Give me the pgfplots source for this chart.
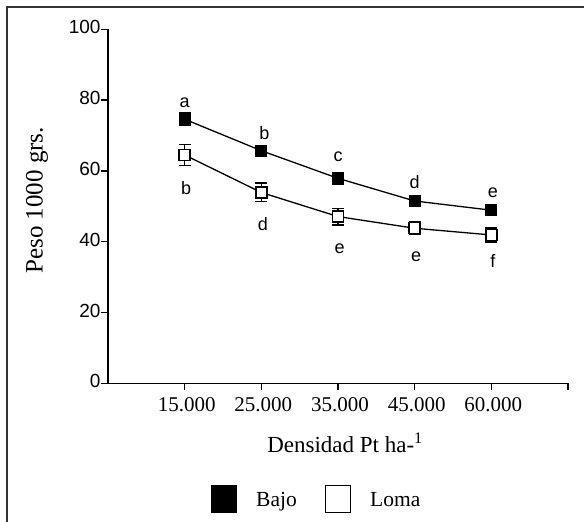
\documentclass[border=0pt]{standalone}
\usepackage{fontspec}
\setmainfont{Liberation Serif}
\newfontfamily\arial{Liberation Sans}
\usepackage{pgfplots}
\pgfplotsset{compat=1.18}

\pgfplotstableread{
x  y     e
1  74.6  1.8
2  65.7  1.5
3  57.9  1.6
4  51.5  1.5
5  48.9  1.1
}\bajo
\pgfplotstableread{
x  y     e
1  64.5  3.0
2  53.9  2.6
3  47.1  2.3
4  43.8  1.8
5  41.9  2.0
}\loma

\begin{document}
\begin{tikzpicture}[x=1pt,y=1pt]
\path[use as bounding box] (0,0) rectangle (584,522);
\draw[line width=1.4pt,black!80] (7,-5) -- (7,515) -- (590,515);
\begin{axis}[
  at={(108pt,138.7pt)},anchor=south west,
  scale only axis,width=460pt,height=354pt,
  xmin=0,xmax=6,ymin=0,ymax=100,
  axis x line=bottom,axis y line=left,
  axis line style={line width=1.3pt,-},
  xtick={1,2,3,4,5,6},
  xticklabels={15.000,25.000,35.000,45.000,60.000,},
  ytick={0,20,40,60,80,100},
  tick align=outside,
  major tick length=7pt,
  tick style={line width=1.3pt,black},
  /pgf/number format/assume math mode=true,
  xticklabel style={font=\fontsize{21}{21}\selectfont,yshift=-4pt,xshift=2pt},
  yticklabel style={font=\arial\fontsize{19}{19}\selectfont,xshift=3pt,yshift=2pt},
  ylabel={Peso 1000 grs.},
  ylabel style={font=\fontsize{25}{25}\selectfont,at={(axis description cs:0,0.5)},anchor=center,xshift=6pt,yshift=71pt},
  xlabel={Densidad Pt ha-\textsuperscript{1}},
  xlabel style={font=\fontsize{23}{23}\selectfont,at={(axis description cs:0.5,0)},anchor=base,yshift=-69.7pt,xshift=7pt},
  clip=false,
]
\addplot[black,line width=1.3pt,mark=square*,mark size=5.5pt,
  mark options={fill=black,solid},
  error bars/.cd,y dir=both,y explicit,
  error bar style={line width=1.6pt},error mark options={rotate=90,mark size=6pt,line width=1.6pt}]
  table[x=x,y=y,y error=e]{\bajo};
\addplot[black,line width=1.3pt,mark=square*,mark size=5.5pt,
  mark options={fill=white,solid,line width=1.5pt},
  error bars/.cd,y dir=both,y explicit,
  error bar style={line width=1.6pt},error mark options={rotate=90,mark size=6pt,line width=1.6pt}]
  table[x=x,y=y,y error=e]{\loma};
\begin{scope}[every node/.style={font=\arial\fontsize{18}{18}\selectfont,anchor=base,inner sep=0pt}]
\node at (axis cs:1,78.0) {a};
\node at (axis cs:2.04,68.9) {b};
\node at (axis cs:3,62.6) {c};
\node at (axis cs:4,55.1) {d};
\node at (axis cs:5.02,52.5) {e};
\node at (axis cs:1.02,53.2) {b};
\node at (axis cs:2.02,43.3) {d};
\node at (axis cs:3.02,36.7) {e};
\node at (axis cs:4.02,34.3) {e};
\node at (axis cs:5.02,32.7) {f};
\end{scope}
\end{axis}
\fill[black] (211,9) rectangle (237,37);
\node[anchor=base west,font=\fontsize{21.5}{21.5}\selectfont,inner sep=0pt] at (256,15) {Bajo};
\draw[line width=1.3pt] (325.6,9.6) rectangle (350.4,36.4);
\node[anchor=base west,font=\fontsize{21.5}{21.5}\selectfont,inner sep=0pt] at (370,15) {Loma};
\end{tikzpicture}
\end{document}
